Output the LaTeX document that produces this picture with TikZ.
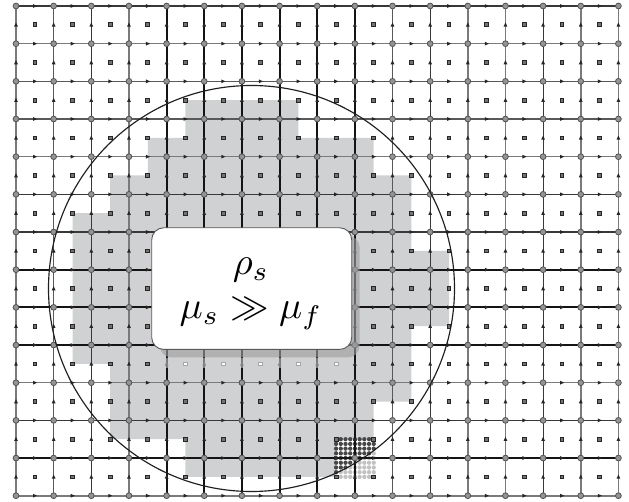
\documentclass[tikz,border=0pt]{standalone}
\usepackage{graphicx}
\definecolor{regiongray}{HTML}{D0D1D3}
\tikzset{
  x=1pt,y=-1pt,
  thickline/.style={draw=black!92,line width=2.1pt},
  darkline/.style={draw=black!78,line width=1.05pt},
  grayline/.style={draw=black!52,line width=1.6pt},
  midline/.style={draw=black!65,line width=1.25pt},
  vertexdot/.style={circle,draw=black!68,fill=black!42,line width=0.8pt,minimum size=5.8pt,inner sep=0pt},
  centerbox/.style={rectangle,draw=black!85,fill=black!55,line width=0.8pt,minimum size=3.8pt,inner sep=0pt},
  fadedbox/.style={rectangle,draw=black!35,fill=white,line width=0.8pt,minimum size=3.8pt,inner sep=0pt},
  arrowmark/.style={fill=black!85},
  bigcircle/.style={draw=black!88,line width=1.15pt},
  labelbox/.style={rectangle,rounded corners=12pt,draw=black!65,fill=white,line width=0.9pt,
     minimum width=200pt,minimum height=121.6pt,inner sep=0pt},
  boxshadow/.style={rounded corners=12pt,fill=black!38,fill opacity=0.62},
}
\newcommand{\GX}[1]{16+37.65*#1}
\newcommand{\GY}[1]{6+37.67*#1}
\begin{document}
\begin{tikzpicture}
\useasboundingbox (0,0) rectangle (629,502);
\fill[white] (0,0) rectangle (629,502);
% solid region
\fill[regiongray] (185.4,100.2)--(298.4,100.2)--(298.4,137.8)--(373.7,137.8)--(373.7,175.5)
  --(411.4,175.5)--(411.4,250.8)--(449,250.8)--(449,326.2)--(411.4,326.2)--(411.4,401.5)
  --(373.7,401.5)--(373.7,439.2)--(336.1,439.2)--(336.1,476.8)--(185.4,476.8)--(185.4,439.2)
  --(110.1,439.2)--(110.1,363.8)--(72.5,363.8)--(72.5,213.2)--(110.1,213.2)--(110.1,175.5)
  --(147.8,175.5)--(147.8,137.8)--(185.4,137.8)--cycle;
% refined cell
\foreach \a in {0,...,8}{\foreach \b in {0,...,8}{
  \pgfmathsetmacro{\dx}{336.1+4.706*\a}
  \pgfmathsetmacro{\dy}{439.2+4.709*\b}
  \pgfmathsetmacro{\rr}{((\dx-251.5)/100)^2+((\dy-288.5)/100)^2}
  \pgfmathparse{\rr<4.1?"black!72":"black!24"}
  \edef\dotcol{\pgfmathresult}
  \fill[\dotcol] (\dx,\dy) circle (2.15pt);
}}
% mesh vertices
\foreach \i in {0,...,16}{\foreach \j in {0,...,13}{
  \pgfmathsetmacro{\vx}{\GX{\i}}
  \pgfmathsetmacro{\vy}{\GY{\j}}
  \coordinate (v-\i-\j) at (\vx,\vy);
}}
% vertical mesh lines
\foreach \i/\s in {0/grayline,1/midline,2/darkline,3/grayline,4/thickline,5/thickline,6/thickline,
  7/thickline,8/thickline,9/thickline,10/midline,11/darkline,12/grayline,13/grayline,14/darkline,
  15/grayline,16/grayline}{
  \draw[\s] (v-\i-0) -- (v-\i-13);
}
% horizontal mesh lines
\foreach \j/\s in {0/darkline,1/grayline,2/midline,3/midline,4/grayline,5/darkline,6/darkline,
  7/thickline,8/thickline,9/thickline,10/grayline,11/darkline,12/thickline,13/grayline}{
  \draw[\s] (v-0-\j) -- (v-16-\j);
}
% edge arrowheads
\foreach \i in {0,...,15}{\foreach \j in {0,...,13}{
  \pgfmathsetmacro{\ax}{\GX{\i}+18.8}
  \pgfmathsetmacro{\ay}{\GY{\j}}
  \fill[arrowmark,shift={(\ax,\ay)}] (-1.8,-1.9)--(2.3,0)--(-1.8,1.9)--cycle;
}}
\foreach \i in {0,...,16}{\foreach \j in {0,...,12}{
  \pgfmathsetmacro{\ax}{\GX{\i}}
  \pgfmathsetmacro{\ay}{\GY{\j}+18.8}
  \fill[arrowmark,shift={(\ax,\ay)}] (-1.9,1.8)--(0,-2.3)--(1.9,1.8)--cycle;
}}
% cell centres
\foreach \i in {0,...,15}{\foreach \j in {0,...,12}{
  \pgfmathsetmacro{\cx}{\GX{\i}+18.8}
  \pgfmathsetmacro{\cy}{\GY{\j}+18.8}
  \node[centerbox] (c-\i-\j) at (\cx,\cy) {};
}}
% vertices on top
\foreach \i in {0,...,16}{\foreach \j in {0,...,13}{
  \node[vertexdot] (n-\i-\j) at (v-\i-\j) {};
}}
% immersed disc
\draw[bigcircle] (251.5,288.5) circle (203pt);
% washed strip below the shadow
\fill[regiongray,fill opacity=0.55] (160,358) rectangle (345,368);
\foreach \i in {4,...,8}{
  \node[fadedbox] (f-\i) at (c-\i-9) {};
}
% label box
\fill[boxshadow] (159.7,235.7) rectangle (359.7,357.5);
\node[labelbox] (label) at (251.7,288.6) {};
\node[inner sep=0pt] (rho) at (251,270) {\scalebox{3.85}{$\rho_s$}};
\node[inner sep=0pt] (mu) at (251,314) {\scalebox{3.85}{$\mu_s\gg\mu_f$}};
\end{tikzpicture}
\end{document}
